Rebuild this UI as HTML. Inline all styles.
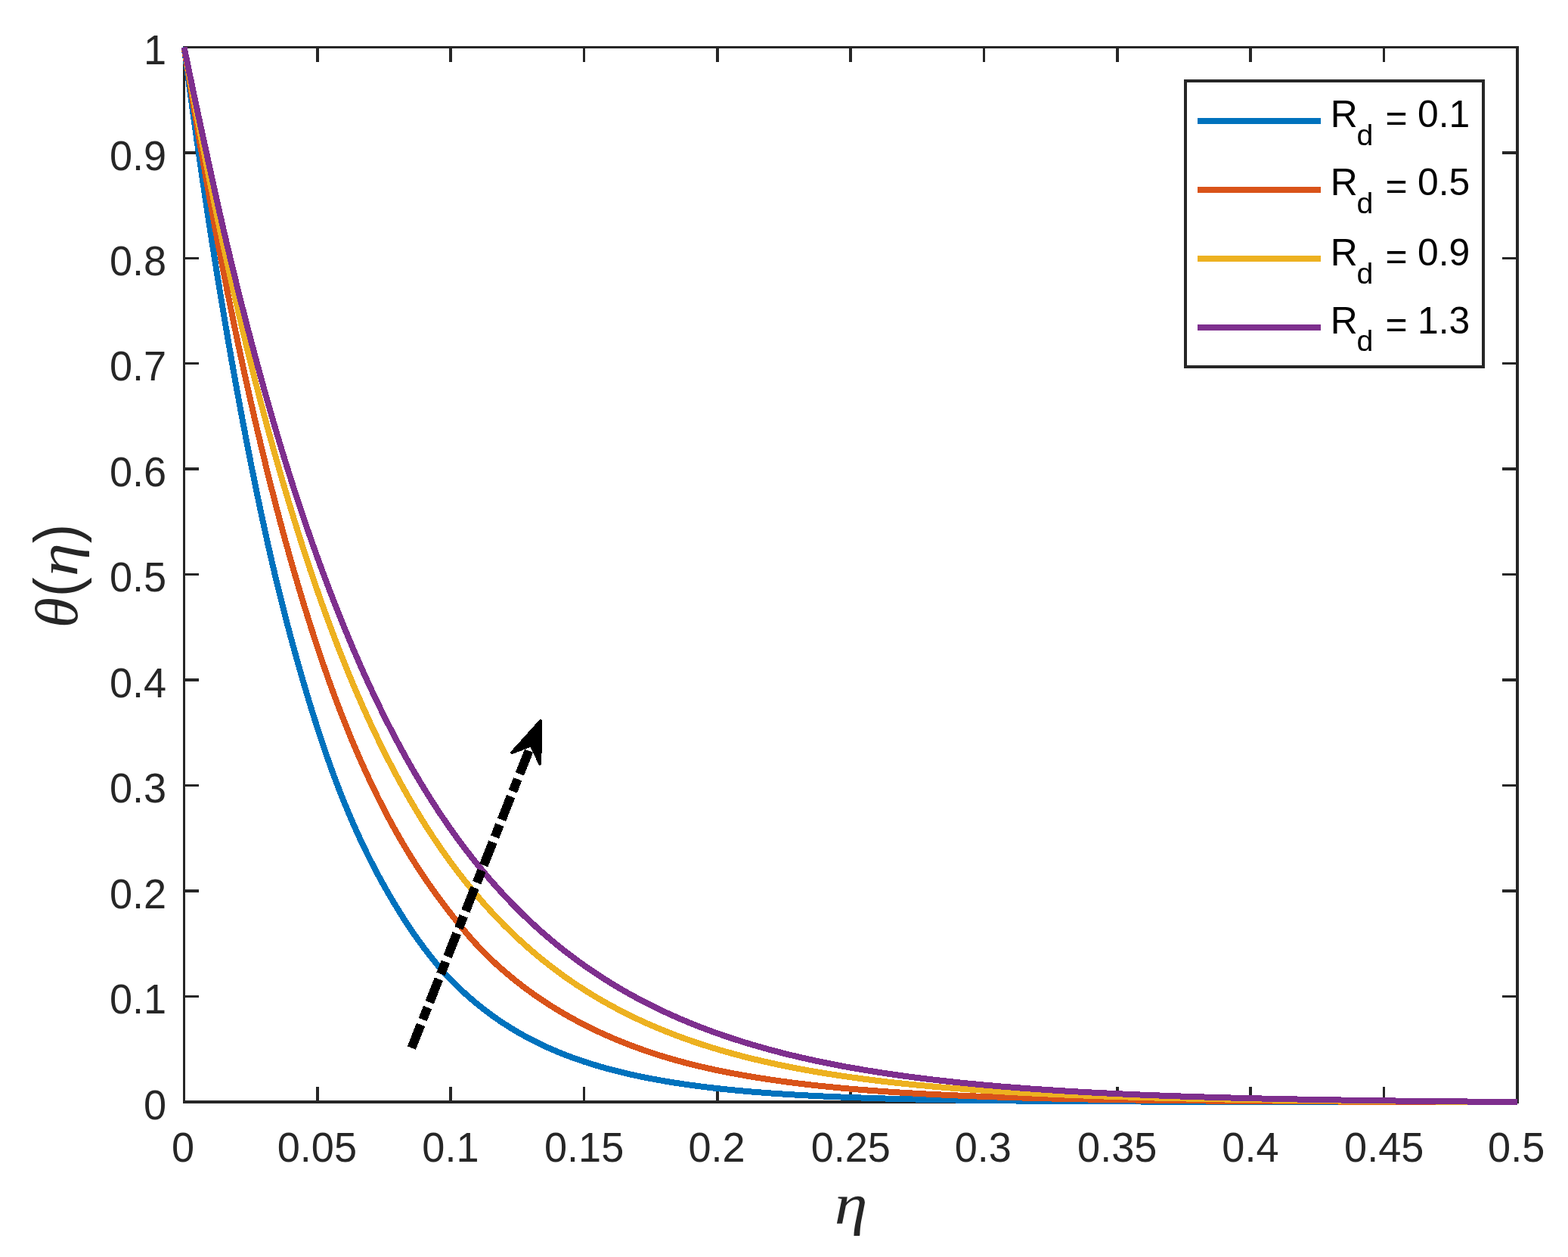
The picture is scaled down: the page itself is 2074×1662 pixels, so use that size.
<!DOCTYPE html>
<html lang="en">
<head>
<meta charset="utf-8">
<title>Temperature profile θ(η) for different values of R_d</title>
<style>
html,body{margin:0;padding:0;background:#fff;}
body{width:2074px;height:1662px;overflow:hidden;}
svg{display:block;}
text{font-family:"Liberation Sans",sans-serif;}
.m{font-family:"Liberation Serif",serif;}
.i{font-style:italic;}
.s{font-family:"Liberation Sans",sans-serif;}
</style>
</head>
<body>
<svg xmlns="http://www.w3.org/2000/svg" width="2074" height="1662" viewBox="0 0 2074 1662">
<rect x="0" y="0" width="2074" height="1662" fill="#fff"/>
<g id="axes" fill="#262626" shape-rendering="crispEdges">
<rect x="242" y="61" width="3" height="1398"/>
<rect x="2005" y="61" width="4" height="1398"/>
<rect x="242" y="61" width="1767" height="3"/>
<rect x="242" y="1455" width="1767" height="4"/>
<rect x="418" y="1437" width="4" height="18"/>
<rect x="418" y="64" width="4" height="18"/>
<rect x="594" y="1437" width="4" height="18"/>
<rect x="594" y="64" width="4" height="18"/>
<rect x="771" y="1437" width="3" height="18"/>
<rect x="771" y="64" width="3" height="18"/>
<rect x="947" y="1437" width="4" height="18"/>
<rect x="947" y="64" width="4" height="18"/>
<rect x="1123" y="1437" width="4" height="18"/>
<rect x="1123" y="64" width="4" height="18"/>
<rect x="1300" y="1437" width="3" height="18"/>
<rect x="1300" y="64" width="3" height="18"/>
<rect x="1476" y="1437" width="4" height="18"/>
<rect x="1476" y="64" width="4" height="18"/>
<rect x="1652" y="1437" width="4" height="18"/>
<rect x="1652" y="64" width="4" height="18"/>
<rect x="1829" y="1437" width="3" height="18"/>
<rect x="1829" y="64" width="3" height="18"/>
<rect x="245" y="1316" width="18" height="3"/>
<rect x="1987" y="1316" width="18" height="3"/>
<rect x="245" y="1176" width="18" height="4"/>
<rect x="1987" y="1176" width="18" height="4"/>
<rect x="245" y="1037" width="18" height="3"/>
<rect x="1987" y="1037" width="18" height="3"/>
<rect x="245" y="897" width="18" height="4"/>
<rect x="1987" y="897" width="18" height="4"/>
<rect x="245" y="758" width="18" height="3"/>
<rect x="1987" y="758" width="18" height="3"/>
<rect x="245" y="618" width="18" height="4"/>
<rect x="1987" y="618" width="18" height="4"/>
<rect x="245" y="479" width="18" height="3"/>
<rect x="1987" y="479" width="18" height="3"/>
<rect x="245" y="340" width="18" height="3"/>
<rect x="1987" y="340" width="18" height="3"/>
<rect x="245" y="200" width="18" height="4"/>
<rect x="1987" y="200" width="18" height="4"/>
</g>
<g id="curves" fill="none" stroke-width="8" stroke-linejoin="round" stroke-linecap="butt" shape-rendering="crispEdges">
<path d="M243.55,62.35 L247.96,95.48 L252.37,127.95 L256.77,159.76 L261.18,190.93 L265.59,221.47 L270,251.39 L274.41,280.71 L278.81,309.44 L283.22,337.6 L287.63,365.19 L292.04,392.23 L296.45,418.72 L300.86,444.68 L305.26,470.1 L309.67,494.99 L314.08,519.35 L318.49,543.2 L322.9,566.58 L327.3,589.48 L331.71,611.91 L336.12,633.85 L340.53,655.3 L344.94,676.27 L349.35,696.74 L353.75,716.7 L358.16,736.16 L362.57,755.1 L366.98,773.53 L371.39,791.47 L375.79,808.93 L380.2,825.94 L384.61,842.53 L389.02,858.72 L393.43,874.53 L397.83,889.99 L402.24,905.11 L406.65,919.93 L411.06,934.45 L415.47,948.64 L419.88,962.51 L424.28,976.04 L428.69,989.21 L433.1,1002.02 L437.51,1014.45 L441.92,1026.49 L446.32,1038.15 L450.73,1049.48 L455.14,1060.49 L459.55,1071.19 L463.96,1081.59 L468.36,1091.71 L472.77,1101.56 L477.18,1111.15 L481.59,1120.45 L486,1129.5 L490.41,1138.31 L494.81,1146.88 L499.22,1155.22 L503.63,1163.36 L508.04,1171.3 L512.45,1179.05 L516.85,1186.62 L521.26,1194.03 L525.67,1201.28 L530.08,1208.37 L534.49,1215.31 L538.89,1222.09 L543.3,1228.7 L547.71,1235.14 L552.12,1241.41 L556.53,1247.51 L560.93,1253.44 L565.34,1259.22 L569.75,1264.87 L574.16,1270.39 L578.57,1275.76 L582.98,1280.96 L587.38,1285.97 L591.79,1290.79 L596.2,1295.4 L605.02,1304.17 L613.83,1312.46 L622.65,1320.3 L631.47,1327.71 L640.28,1334.72 L649.1,1341.35 L657.91,1347.62 L666.73,1353.54 L675.55,1359.13 L684.36,1364.42 L693.18,1369.42 L702,1374.14 L710.81,1378.61 L719.63,1382.82 L728.44,1386.8 L737.26,1390.57 L746.08,1394.12 L754.89,1397.48 L763.71,1400.65 L772.53,1403.65 L781.34,1406.48 L790.16,1409.16 L798.97,1411.7 L807.79,1414.11 L816.61,1416.39 L825.42,1418.55 L834.24,1420.59 L843.06,1422.53 L851.87,1424.36 L860.69,1426.09 L869.5,1427.74 L878.32,1429.29 L887.14,1430.77 L895.95,1432.16 L904.77,1433.48 L913.59,1434.73 L922.4,1435.92 L931.22,1437.04 L940.03,1438.1 L948.85,1439.11 L957.67,1440.06 L966.48,1440.97 L975.3,1441.82 L984.12,1442.63 L992.93,1443.4 L1001.75,1444.12 L1010.56,1444.81 L1019.38,1445.46 L1028.2,1446.07 L1037.01,1446.66 L1045.83,1447.21 L1054.64,1447.73 L1063.46,1448.23 L1072.28,1448.7 L1081.09,1449.14 L1089.91,1449.56 L1098.73,1449.96 L1107.54,1450.34 L1116.36,1450.69 L1125.17,1451.03 L1147.22,1451.8 L1169.26,1452.47 L1191.3,1453.06 L1213.34,1453.57 L1235.38,1454.01 L1257.42,1454.4 L1279.46,1454.74 L1301.5,1455.04 L1323.54,1455.3 L1345.58,1455.52 L1367.62,1455.72 L1389.66,1455.89 L1411.7,1456.04 L1433.74,1456.17 L1455.78,1456.28 L1477.82,1456.38 L1499.87,1456.47 L1521.91,1456.55 L1543.95,1456.61 L1565.99,1456.67 L1588.03,1456.72 L1610.07,1456.77 L1632.11,1456.8 L1654.15,1456.84 L1676.19,1456.87 L1698.23,1456.89 L1720.27,1456.92 L1742.31,1456.94 L1764.35,1456.95 L1786.39,1456.97 L1808.43,1456.98 L1830.47,1456.99 L1852.52,1457 L1874.56,1457.01 L1896.6,1457.02 L1918.64,1457.03 L1940.68,1457.04 L1962.72,1457.04 L1984.76,1457.05 L2006.8,1457.05" stroke="#0072BD"/>
<path d="M243.55,62.35 L247.96,90 L252.37,117.15 L256.77,143.83 L261.18,170.03 L265.59,195.77 L270,221.05 L274.41,245.88 L278.81,270.28 L283.22,294.23 L287.63,317.76 L292.04,340.87 L296.45,363.56 L300.86,385.85 L305.26,407.74 L309.67,429.24 L314.08,450.35 L318.49,471.08 L322.9,491.45 L327.3,511.45 L331.71,531.1 L336.12,550.4 L340.53,569.35 L344.94,587.96 L349.35,606.22 L353.75,624.15 L358.16,641.75 L362.57,659.02 L366.98,675.96 L371.39,692.58 L375.79,708.87 L380.2,724.85 L384.61,740.51 L389.02,755.87 L393.43,770.95 L397.83,785.76 L402.24,800.28 L406.65,814.53 L411.06,828.5 L415.47,842.19 L419.88,855.62 L424.28,868.77 L428.69,881.65 L433.1,894.26 L437.51,906.61 L441.92,918.68 L446.32,930.49 L450.73,942.03 L455.14,953.3 L459.55,964.31 L463.96,975.06 L468.36,985.56 L472.77,995.83 L477.18,1005.87 L481.59,1015.69 L486,1025.3 L490.41,1034.7 L494.81,1043.89 L499.22,1052.88 L503.63,1061.67 L508.04,1070.26 L512.45,1078.67 L516.85,1086.89 L521.26,1094.93 L525.67,1102.79 L530.08,1110.48 L534.49,1117.99 L538.89,1125.32 L543.3,1132.49 L547.71,1139.5 L552.12,1146.36 L556.53,1153.07 L560.93,1159.65 L565.34,1166.09 L569.75,1172.4 L574.16,1178.6 L578.57,1184.67 L582.98,1190.64 L587.38,1196.51 L591.79,1202.31 L596.2,1208.04 L605.02,1219.24 L613.83,1230.03 L622.65,1240.35 L631.47,1250.17 L640.28,1259.42 L649.1,1268.06 L657.91,1276.21 L666.73,1283.99 L675.55,1291.43 L684.36,1298.54 L693.18,1305.34 L702,1311.84 L710.81,1318.07 L719.63,1324.02 L728.44,1329.72 L737.26,1335.18 L746.08,1340.4 L754.89,1345.41 L763.71,1350.21 L772.53,1354.82 L781.34,1359.23 L790.16,1363.47 L798.97,1367.54 L807.79,1371.43 L816.61,1375.16 L825.42,1378.74 L834.24,1382.17 L843.06,1385.45 L851.87,1388.58 L860.69,1391.59 L869.5,1394.46 L878.32,1397.2 L887.14,1399.83 L895.95,1402.33 L904.77,1404.72 L913.59,1407.01 L922.4,1409.19 L931.22,1411.27 L940.03,1413.25 L948.85,1415.14 L957.67,1416.94 L966.48,1418.67 L975.3,1420.32 L984.12,1421.9 L992.93,1423.41 L1001.75,1424.86 L1010.56,1426.25 L1019.38,1427.57 L1028.2,1428.84 L1037.01,1430.06 L1045.83,1431.22 L1054.64,1432.33 L1063.46,1433.4 L1072.28,1434.42 L1081.09,1435.4 L1089.91,1436.33 L1098.73,1437.22 L1107.54,1438.08 L1116.36,1438.9 L1125.17,1439.68 L1147.22,1441.5 L1169.26,1443.12 L1191.3,1444.58 L1213.34,1445.89 L1235.38,1447.06 L1257.42,1448.11 L1279.46,1449.05 L1301.5,1449.89 L1323.54,1450.65 L1345.58,1451.33 L1367.62,1451.93 L1389.66,1452.48 L1411.7,1452.97 L1433.74,1453.41 L1455.78,1453.8 L1477.82,1454.15 L1499.87,1454.47 L1521.91,1454.75 L1543.95,1455.01 L1565.99,1455.24 L1588.03,1455.44 L1610.07,1455.63 L1632.11,1455.79 L1654.15,1455.94 L1676.19,1456.07 L1698.23,1456.19 L1720.27,1456.3 L1742.31,1456.4 L1764.35,1456.49 L1786.39,1456.57 L1808.43,1456.64 L1830.47,1456.71 L1852.52,1456.76 L1874.56,1456.82 L1896.6,1456.87 L1918.64,1456.91 L1940.68,1456.95 L1962.72,1456.99 L1984.76,1457.02 L2006.8,1457.05" stroke="#D95319"/>
<path d="M243.55,62.35 L247.96,86.57 L252.37,110.41 L256.77,133.88 L261.18,156.98 L265.59,179.72 L270,202.1 L274.41,224.12 L278.81,245.8 L283.22,267.13 L287.63,288.12 L292.04,308.78 L296.45,329.1 L300.86,349.1 L305.26,368.77 L309.67,388.13 L314.08,407.17 L318.49,425.89 L322.9,444.31 L327.3,462.42 L331.71,480.23 L336.12,497.74 L340.53,514.97 L344.94,531.9 L349.35,548.56 L353.75,564.94 L358.16,581.06 L362.57,596.91 L366.98,612.5 L371.39,627.84 L375.79,642.94 L380.2,657.79 L384.61,672.41 L389.02,686.81 L393.43,701 L397.83,714.97 L402.24,728.72 L406.65,742.22 L411.06,755.47 L415.47,768.46 L419.88,781.23 L424.28,793.77 L428.69,806.1 L433.1,818.22 L437.51,830.12 L441.92,841.82 L446.32,853.31 L450.73,864.59 L455.14,875.67 L459.55,886.56 L463.96,897.24 L468.36,907.74 L472.77,918.04 L477.18,928.15 L481.59,938.07 L486,947.81 L490.41,957.36 L494.81,966.74 L499.22,975.94 L503.63,984.96 L508.04,993.83 L512.45,1002.53 L516.85,1011.07 L521.26,1019.46 L525.67,1027.69 L530.08,1035.78 L534.49,1043.71 L538.89,1051.49 L543.3,1059.13 L547.71,1066.63 L552.12,1073.98 L556.53,1081.2 L560.93,1088.28 L565.34,1095.22 L569.75,1102.03 L574.16,1108.71 L578.57,1115.27 L582.98,1121.69 L587.38,1127.99 L591.79,1134.17 L596.2,1140.23 L605.02,1152 L613.83,1163.34 L622.65,1174.26 L631.47,1184.78 L640.28,1194.91 L649.1,1204.66 L657.91,1214.05 L666.73,1223.1 L675.55,1231.81 L684.36,1240.19 L693.18,1248.26 L702,1256.03 L710.81,1263.51 L719.63,1270.71 L728.44,1277.63 L737.26,1284.3 L746.08,1290.72 L754.89,1296.9 L763.71,1302.85 L772.53,1308.57 L781.34,1314.08 L790.16,1319.38 L798.97,1324.49 L807.79,1329.41 L816.61,1334.15 L825.42,1338.71 L834.24,1343.11 L843.06,1347.34 L851.87,1351.41 L860.69,1355.33 L869.5,1359.11 L878.32,1362.74 L887.14,1366.24 L895.95,1369.61 L904.77,1372.85 L913.59,1375.97 L922.4,1378.97 L931.22,1381.86 L940.03,1384.64 L948.85,1387.32 L957.67,1389.89 L966.48,1392.38 L975.3,1394.77 L984.12,1397.07 L992.93,1399.29 L1001.75,1401.42 L1010.56,1403.48 L1019.38,1405.47 L1028.2,1407.38 L1037.01,1409.21 L1045.83,1410.99 L1054.64,1412.69 L1063.46,1414.34 L1072.28,1415.92 L1081.09,1417.45 L1089.91,1418.92 L1098.73,1420.33 L1107.54,1421.7 L1116.36,1423.01 L1125.17,1424.28 L1147.22,1427.24 L1169.26,1429.94 L1191.3,1432.4 L1213.34,1434.64 L1235.38,1436.68 L1257.42,1438.54 L1279.46,1440.23 L1301.5,1441.78 L1323.54,1443.18 L1345.58,1444.46 L1367.62,1445.63 L1389.66,1446.69 L1411.7,1447.66 L1433.74,1448.55 L1455.78,1449.36 L1477.82,1450.09 L1499.87,1450.76 L1521.91,1451.38 L1543.95,1451.93 L1565.99,1452.45 L1588.03,1452.91 L1610.07,1453.34 L1632.11,1453.73 L1654.15,1454.08 L1676.19,1454.41 L1698.23,1454.71 L1720.27,1454.98 L1742.31,1455.23 L1764.35,1455.46 L1786.39,1455.67 L1808.43,1455.86 L1830.47,1456.04 L1852.52,1456.21 L1874.56,1456.36 L1896.6,1456.5 L1918.64,1456.62 L1940.68,1456.74 L1962.72,1456.85 L1984.76,1456.96 L2006.8,1457.05" stroke="#EDB120"/>
<path d="M243.55,62.35 L247.96,83.9 L252.37,105.17 L256.77,126.19 L261.18,146.98 L265.59,167.54 L270,187.9 L274.41,208.05 L278.81,228.17 L283.22,248.28 L287.63,268.24 L292.04,287.89 L296.45,307.04 L300.86,325.83 L305.26,344.31 L309.67,362.49 L314.08,380.39 L318.49,398 L322.9,415.36 L327.3,432.46 L331.71,449.34 L336.12,466 L340.53,482.41 L344.94,498.58 L349.35,514.51 L353.75,530.2 L358.16,545.64 L362.57,560.84 L366.98,575.78 L371.39,590.48 L375.79,604.93 L380.2,619.14 L384.61,633.11 L389.02,646.85 L393.43,660.37 L397.83,673.67 L402.24,686.76 L406.65,699.64 L411.06,712.33 L415.47,724.82 L419.88,737.12 L424.28,749.24 L428.69,761.18 L433.1,772.93 L437.51,784.51 L441.92,795.91 L446.32,807.14 L450.73,818.19 L455.14,829.07 L459.55,839.77 L463.96,850.31 L468.36,860.68 L472.77,870.89 L477.18,880.93 L481.59,890.81 L486,900.52 L490.41,910.07 L494.81,919.47 L499.22,928.71 L503.63,937.79 L508.04,946.71 L512.45,955.49 L516.85,964.11 L521.26,972.58 L525.67,980.9 L530.08,989.07 L534.49,997.11 L538.89,1005.02 L543.3,1012.79 L547.71,1020.43 L552.12,1027.94 L556.53,1035.32 L560.93,1042.58 L565.34,1049.71 L569.75,1056.72 L574.16,1063.6 L578.57,1070.37 L582.98,1077.02 L587.38,1083.55 L591.79,1089.96 L596.2,1096.27 L605.02,1108.55 L613.83,1120.43 L622.65,1131.9 L631.47,1142.98 L640.28,1153.68 L649.1,1164.02 L657.91,1174 L666.73,1183.64 L675.55,1192.94 L684.36,1201.92 L693.18,1210.59 L702,1218.96 L710.81,1227.04 L719.63,1234.85 L728.44,1242.39 L737.26,1249.67 L746.08,1256.7 L754.89,1263.49 L763.71,1270.05 L772.53,1276.38 L781.34,1282.49 L790.16,1288.4 L798.97,1294.11 L807.79,1299.62 L816.61,1304.95 L825.42,1310.1 L834.24,1315.08 L843.06,1319.88 L851.87,1324.53 L860.69,1329.02 L869.5,1333.35 L878.32,1337.54 L887.14,1341.59 L895.95,1345.5 L904.77,1349.28 L913.59,1352.93 L922.4,1356.45 L931.22,1359.86 L940.03,1363.15 L948.85,1366.33 L957.67,1369.4 L966.48,1372.36 L975.3,1375.23 L984.12,1378.01 L992.93,1380.68 L1001.75,1383.27 L1010.56,1385.78 L1019.38,1388.2 L1028.2,1390.53 L1037.01,1392.79 L1045.83,1394.98 L1054.64,1397.09 L1063.46,1399.13 L1072.28,1401.1 L1081.09,1403 L1089.91,1404.85 L1098.73,1406.62 L1107.54,1408.35 L1116.36,1410.01 L1125.17,1411.61 L1147.22,1415.4 L1169.26,1418.88 L1191.3,1422.07 L1213.34,1425 L1235.38,1427.7 L1257.42,1430.17 L1279.46,1432.45 L1301.5,1434.54 L1323.54,1436.45 L1345.58,1438.22 L1367.62,1439.84 L1389.66,1441.33 L1411.7,1442.7 L1433.74,1443.96 L1455.78,1445.12 L1477.82,1446.18 L1499.87,1447.16 L1521.91,1448.07 L1543.95,1448.9 L1565.99,1449.66 L1588.03,1450.37 L1610.07,1451.02 L1632.11,1451.61 L1654.15,1452.17 L1676.19,1452.68 L1698.23,1453.15 L1720.27,1453.58 L1742.31,1453.98 L1764.35,1454.35 L1786.39,1454.7 L1808.43,1455.02 L1830.47,1455.31 L1852.52,1455.59 L1874.56,1455.84 L1896.6,1456.08 L1918.64,1456.3 L1940.68,1456.51 L1962.72,1456.7 L1984.76,1456.88 L2006.8,1457.05" stroke="#7E2F8E"/>
</g>
<g id="ticklabels" font-size="54.1" fill="#262626">
<text transform="translate(242,1535.6) scale(1,1.01)" text-anchor="middle">0</text>
<text transform="translate(419.4,1535.6) scale(1,1.01)" text-anchor="middle">0.05</text>
<text transform="translate(595.9,1535.6) scale(1,1.01)" text-anchor="middle">0.1</text>
<text transform="translate(772.6,1535.6) scale(1,1.01)" text-anchor="middle">0.15</text>
<text transform="translate(948,1535.6) scale(1,1.01)" text-anchor="middle">0.2</text>
<text transform="translate(1125.3,1535.6) scale(1,1.01)" text-anchor="middle">0.25</text>
<text transform="translate(1300.35,1535.6) scale(1,1.01)" text-anchor="middle">0.3</text>
<text transform="translate(1477.75,1535.6) scale(1,1.01)" text-anchor="middle">0.35</text>
<text transform="translate(1653.9,1535.6) scale(1,1.01)" text-anchor="middle">0.4</text>
<text transform="translate(1830.7,1535.6) scale(1,1.01)" text-anchor="middle">0.45</text>
<text transform="translate(2005.65,1535.6) scale(1,1.01)" text-anchor="middle">0.5</text>
<text transform="translate(220.1,1479.75) scale(1,1.01)" text-anchor="end">0</text>
<text transform="translate(220.1,1340.28) scale(1,1.01)" text-anchor="end">0.1</text>
<text transform="translate(220.1,1200.81) scale(1,1.01)" text-anchor="end">0.2</text>
<text transform="translate(220.1,1061.34) scale(1,1.01)" text-anchor="end">0.3</text>
<text transform="translate(220.1,921.87) scale(1,1.01)" text-anchor="end">0.4</text>
<text transform="translate(220.1,782.4) scale(1,1.01)" text-anchor="end">0.5</text>
<text transform="translate(220.1,642.93) scale(1,1.01)" text-anchor="end">0.6</text>
<text transform="translate(220.1,503.46) scale(1,1.01)" text-anchor="end">0.7</text>
<text transform="translate(220.1,363.99) scale(1,1.01)" text-anchor="end">0.8</text>
<text transform="translate(220.1,224.52) scale(1,1.01)" text-anchor="end">0.9</text>
<text transform="translate(220.1,85.05) scale(1,1.01)" text-anchor="end">1</text>
</g>
<g id="legend">
<rect x="1568" y="107" width="394" height="377.5" fill="#fff" stroke="#262626" stroke-width="4" shape-rendering="crispEdges"/>
<rect x="1584" y="156" width="163" height="8" fill="#0072BD" shape-rendering="crispEdges"/>
<text transform="translate(0,167.85) scale(1,1)" font-size="49.8" fill="#000"><tspan x="1759.84" y="0">R</tspan><tspan x="1794.4" y="24.55" font-size="39.3">d</tspan><tspan x="1818.72" y="5.05"> =</tspan><tspan x="1861.26" y="0"> 0.1</tspan></text>
<rect x="1584" y="247" width="163" height="8" fill="#D95319" shape-rendering="crispEdges"/>
<text transform="translate(0,257.85) scale(1,1)" font-size="49.8" fill="#000"><tspan x="1759.84" y="0">R</tspan><tspan x="1794.4" y="23.65" font-size="39.3">d</tspan><tspan x="1818.72" y="5.05"> =</tspan><tspan x="1861.26" y="0"> 0.5</tspan></text>
<rect x="1584" y="338" width="163" height="8" fill="#EDB120" shape-rendering="crispEdges"/>
<text transform="translate(0,350.9) scale(1,1)" font-size="49.8" fill="#000"><tspan x="1759.84" y="0">R</tspan><tspan x="1794.4" y="24.55" font-size="39.3">d</tspan><tspan x="1818.72" y="5.05"> =</tspan><tspan x="1861.26" y="0"> 0.9</tspan></text>
<rect x="1584" y="429" width="163" height="8" fill="#7E2F8E" shape-rendering="crispEdges"/>
<text transform="translate(0,440.9) scale(1,1)" font-size="49.8" fill="#000"><tspan x="1759.84" y="0">R</tspan><tspan x="1794.4" y="23.55" font-size="39.3">d</tspan><tspan x="1818.72" y="5.05"> =</tspan><tspan x="1861.26" y="0"> 1.3</tspan></text>
</g>
<g id="arrow" shape-rendering="crispEdges">
<path d="M544.4,1385.6 L700.91,989.23" stroke="#000" stroke-width="12" stroke-dasharray="33 7.3 17.3 7.3" fill="none"/>
<path d="M715.1,953.06 L714.34,1009.75 L702.37,985.5 L677.11,995.14 Z" fill="#000" stroke="#000" stroke-width="4" stroke-linejoin="round"/>
</g>
<g id="labels" fill="#262626">
<text class="m" transform="rotate(-90)"><tspan class="i" x="-830.3" y="102.3" font-size="80.5" textLength="40.29" lengthAdjust="spacingAndGlyphs">θ</tspan><tspan class="s" x="-789.18" y="103.8" font-size="84.1" textLength="26.01" lengthAdjust="spacingAndGlyphs">(</tspan><tspan class="i" x="-762.31" y="102.2" font-size="75" textLength="44.12" lengthAdjust="spacingAndGlyphs">η</tspan><tspan class="s" x="-718.37" y="103.8" font-size="84.1" textLength="25.37" lengthAdjust="spacingAndGlyphs">)</tspan></text>
<text class="m"><tspan class="i" x="1103.81" y="1617.75" font-size="76.2" textLength="43.82" lengthAdjust="spacingAndGlyphs">η</tspan></text>
</g>
</svg>
</body>
</html>
